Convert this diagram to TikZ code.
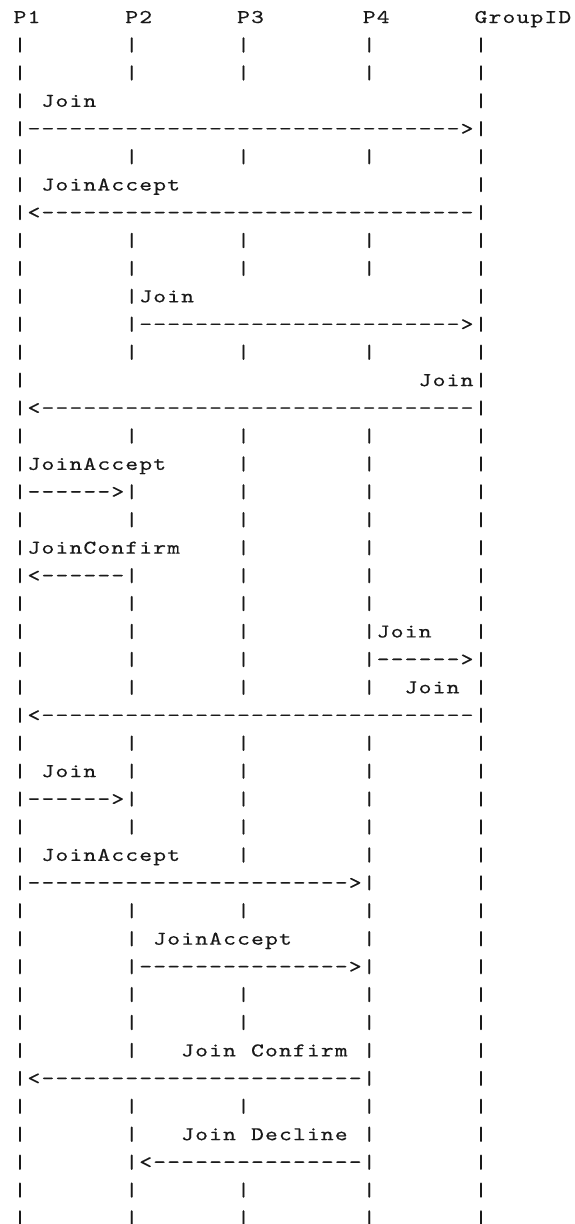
\documentclass[tikz,border=0pt]{standalone}
\usepackage{fontspec}
\usepackage{graphicx}
\newfontfamily\asciifont{lmmono10-regular}[Extension=.otf, FakeBold=0.3]
\newlength\cw \setlength\cw{13.97pt}
\newcommand\ch[1]{\makebox[\cw][c]{\scalebox{1.25}[1]{#1}}}
\makeatletter
\def\spread#1{\spread@i#1\relax}
\def\spread@i#1{\ifx\relax#1\else\ch{#1}\expandafter\spread@i\fi}
\makeatother
\newcommand\dsh[1]{\foreach\k in {1,...,#1}{\ch{-}}}
\tikzset{
  tt/.style={font=\asciifont\fontsize{19.5}{24}\selectfont, inner sep=0pt, outer sep=0pt, anchor=base west, text=black!90}
}
% text token at row #1, column #2, one character per column
\newcommand\T[3]{\node[tt] (t#1-#2) at ({13+13.97*#2},{23+27.93*#1}) {\spread{#3}};}
% arrows: right arrow with #3 dashes, left arrow with #3 dashes
\newcommand\ArrR[3]{\node[tt] (t#1-#2) at ({13+13.97*#2},{23+27.93*#1}) {\dsh{#3}\ch{>}};}
\newcommand\ArrL[3]{\node[tt] (t#1-#2) at ({13+13.97*#2},{23+27.93*#1}) {\ch{<}\dsh{#3}};}
\newcommand\bars[1]{\T{#1}{0}{|}\T{#1}{8}{|}\T{#1}{16}{|}\T{#1}{25}{|}\T{#1}{33}{|}}
\begin{document}
\begin{tikzpicture}[x=1pt,y=-1pt]
\fill[white] (0,0) rectangle (574,1224);
\clip (0,0) rectangle (574,1224);
% header
\T{0}{0}{P1}\T{0}{8}{P2}\T{0}{16}{P3}\T{0}{25}{P4}\T{0}{33}{GroupID}
\bars{1}\bars{2}
% P1 Join -> GroupID
\T{3}{0}{|}\T{3}{2}{Join}\T{3}{33}{|}
\T{4}{0}{|}\ArrR{4}{1}{31}\T{4}{33}{|}
\bars{5}
\T{6}{0}{|}\T{6}{2}{JoinAccept}\T{6}{33}{|}
\T{7}{0}{|}\ArrL{7}{1}{31}\T{7}{33}{|}
\bars{8}\bars{9}
% P2 Join -> GroupID
\T{10}{0}{|}\T{10}{8}{|}\T{10}{9}{Join}\T{10}{33}{|}
\T{11}{0}{|}\T{11}{8}{|}\ArrR{11}{9}{23}\T{11}{33}{|}
\bars{12}
\T{13}{0}{|}\T{13}{29}{Join}\T{13}{33}{|}
\T{14}{0}{|}\ArrL{14}{1}{31}\T{14}{33}{|}
\bars{15}
\T{16}{0}{|}\T{16}{1}{JoinAccept}\T{16}{16}{|}\T{16}{25}{|}\T{16}{33}{|}
\T{17}{0}{|}\ArrR{17}{1}{6}\T{17}{8}{|}\T{17}{16}{|}\T{17}{25}{|}\T{17}{33}{|}
\bars{18}
\T{19}{0}{|}\T{19}{1}{JoinConfirm}\T{19}{16}{|}\T{19}{25}{|}\T{19}{33}{|}
\T{20}{0}{|}\ArrL{20}{1}{6}\T{20}{8}{|}\T{20}{16}{|}\T{20}{25}{|}\T{20}{33}{|}
\bars{21}
% P4 Join
\T{22}{0}{|}\T{22}{8}{|}\T{22}{16}{|}\T{22}{25}{|}\T{22}{26}{Join}\T{22}{33}{|}
\T{23}{0}{|}\T{23}{8}{|}\T{23}{16}{|}\T{23}{25}{|}\ArrR{23}{26}{6}\T{23}{33}{|}
\T{24}{0}{|}\T{24}{8}{|}\T{24}{16}{|}\T{24}{25}{|}\T{24}{28}{Join}\T{24}{33}{|}
\T{25}{0}{|}\ArrL{25}{1}{31}\T{25}{33}{|}
\bars{26}
\T{27}{0}{|}\T{27}{2}{Join}\T{27}{8}{|}\T{27}{16}{|}\T{27}{25}{|}\T{27}{33}{|}
\T{28}{0}{|}\ArrR{28}{1}{6}\T{28}{8}{|}\T{28}{16}{|}\T{28}{25}{|}\T{28}{33}{|}
\bars{29}
\T{30}{0}{|}\T{30}{2}{JoinAccept}\T{30}{16}{|}\T{30}{25}{|}\T{30}{33}{|}
\T{31}{0}{|}\ArrR{31}{1}{23}\T{31}{25}{|}\T{31}{33}{|}
\bars{32}
\T{33}{0}{|}\T{33}{8}{|}\T{33}{10}{JoinAccept}\T{33}{25}{|}\T{33}{33}{|}
\T{34}{0}{|}\T{34}{8}{|}\ArrR{34}{9}{15}\T{34}{25}{|}\T{34}{33}{|}
\bars{35}\bars{36}
\T{37}{0}{|}\T{37}{8}{|}\T{37}{12}{Join~Confirm}\T{37}{25}{|}\T{37}{33}{|}
\T{38}{0}{|}\ArrL{38}{1}{23}\T{38}{25}{|}\T{38}{33}{|}
\bars{39}
\T{40}{0}{|}\T{40}{8}{|}\T{40}{12}{Join~Decline}\T{40}{25}{|}\T{40}{33}{|}
\T{41}{0}{|}\T{41}{8}{|}\ArrL{41}{9}{15}\T{41}{25}{|}\T{41}{33}{|}
\bars{42}\bars{43}
\end{tikzpicture}
\end{document}
